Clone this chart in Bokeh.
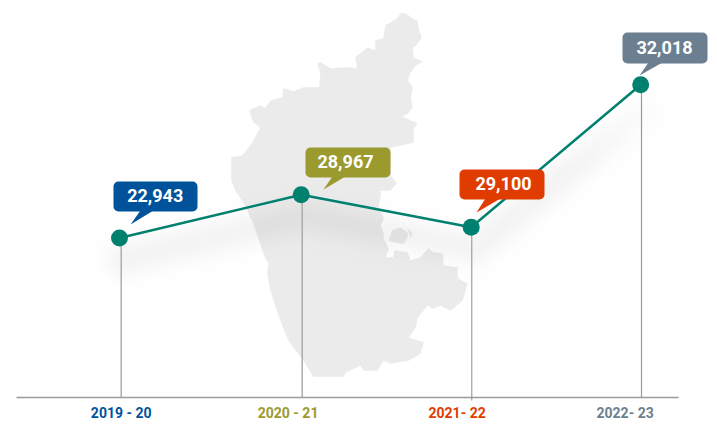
import numpy as np
from bokeh.core.properties import value
from bokeh.embed import file_html
from bokeh.models import Range1d
from bokeh.plotting import figure
from bokeh.resources import INLINE

# page-pixel coordinate space of the reference picture
periods = ["2019 - 20", "2020 - 21", "2021- 22", "2022- 23"]
values = [22943, 28967, 29100, 32018]
colors = ["#00529b", "#9a9a2e", "#e03c00", "#6b7f90"]
point_x = [119, 300.7, 470.7, 640.2]
point_level = [237.5, 194.3, 226.7, 84.3]
stem_x = [120.7, 301.7, 471.3, 641]
label_x = [120.7, 287.6, 456.6, 624.6]
bubble_left = [113, 305, 459, 622]
bubble_right = [197, 390, 544, 707]
bubble_top = [181, 147, 169, 32]
bubble_bottom = [211, 177, 199, 63]
bubble_text_x = [154.7, 345, 503, 664]
tail_xs = [[140, 153, 130], [332, 345, 323], [485, 500, 476], [648, 662, 639]]
tail_ys = [[210, 210, 224], [176, 176, 189], [198, 198, 212], [62, 62, 75]]

map_outline = [
    (405,13),(408,15),(413,19),(417,20),(418,28),(421,37),(417,43),(412,48),(413,57),(422,61),(415,65),
    (410,72),(407,80),(412,87),(410,97),(412,107),(407,113),(401,116),(417,123),(413,128),(413,142),
    (390,147),(390,175),(396,183),(390,190),(380,190),(380,195),(378,207),(383,218),(380,225),(383,233),
    (383,238),(388,248),(385,257),(393,257),(394,250),(407,252),(410,260),(420,257),(428,248),(433,252),
    (442,253),(443,265),(457,267),(457,278),(467,283),(462,300),(450,310),(440,305),(433,308),(427,305),
    (417,317),(415,327),(408,337),(423,342),(420,353),(408,360),(390,363),(383,360),(377,370),(363,370),
    (360,365),(345,372),(343,376),(313,376),(303,360),(288,340),(280,320),(270,290),(267,273),(268,263),
    (265,258),(253,223),(250,217),(245,205),(235,190),(231,180),(231,157),(242,155),(250,145),(253,140),
    (260,127),(253,122),(249,110),(260,105),(265,108),(270,100),(282,97),(283,88),(293,91),(303,87),
    (319,87),(320,73),(317,63),(320,62),(330,68),(347,67),(357,68),(355,57),(367,47),(375,50),
    (375,40),(383,38),(385,25),(397,18),(400,13),
]
map_blob = [(392,230),(400,227),(407,232),(407,237),(403,243),(395,242),(388,240)]
map_sliver = [(407,228),(412,233),(410,237)]

X0, X1, Y0, Y1 = 0, 717, 0, 425
p = figure(width=717, height=425, output_backend="svg", toolbar_location=None,
           x_range=Range1d(X0, X1), y_range=Range1d(Y1, Y0), min_border=0,
           outline_line_color=None, background_fill_color="white", border_fill_color="white")
p.xaxis.visible = False
p.yaxis.visible = False
p.grid.visible = False

# silhouette
for shape in (map_outline, map_blob, map_sliver):
    p.patch([q[0] for q in shape], [q[1] for q in shape], fill_color="#ebebeb", line_color="#ebebeb", line_width=0.5)

# soft drop shadow of the line
gx, gy = np.meshgrid(np.arange(X0, X1, 2.0) + 1, np.arange(Y0, Y1, 2.0) + 1)
dist = np.full(gx.shape, 1e9)
sx = np.array(point_x) + 5
sy = np.array(point_level) + 22
for i in range(3):
    ax, ay, bx, by = sx[i], sy[i], sx[i + 1], sy[i + 1]
    t = np.clip(((gx - ax) * (bx - ax) + (gy - ay) * (by - ay)) / ((bx - ax) ** 2 + (by - ay) ** 2), 0, 1)
    dist = np.minimum(dist, np.hypot(gx - ax - t * (bx - ax), gy - ay - t * (by - ay)))
alpha = 0.045 * np.exp(-((dist / 19.0) ** 2)) * np.clip((gy - 80) / 90, 0, 1)
img = np.zeros(gx.shape, dtype=np.uint32)
view = img.view(np.uint8).reshape(gx.shape + (4,))
view[..., 3] = np.round(alpha * 255).astype(np.uint8)
p.image_rgba(image=[img], x=X0, y=Y0, dw=X1 - X0, dh=Y1 - Y0)

# baseline and stems
p.segment(x0=[16], y0=[397], x1=[678], y1=[397], line_color="#9a9a9a", line_width=1.3)
p.segment(x0=stem_x, y0=point_level, x1=stem_x, y1=[397, 397, 400, 397],
          line_color=["#a8a8a8", "#a8a8a8", "#8c8c8c", "#9a9a9a"], line_width=[1.4, 1.4, 1, 1.2])

# line and markers
p.line(point_x, point_level, line_color="#00806f", line_width=2.5)
p.scatter(point_x, point_level, size=17, fill_color="#00806f", line_color=None)

# callouts
p.patches(tail_xs, tail_ys, fill_color=colors, line_color=None)
p.quad(left=bubble_left, right=bubble_right, top=bubble_top, bottom=bubble_bottom,
       fill_color=colors, line_color=None, border_radius=5)
p.text(x=bubble_text_x, y=[(a + b) / 2 - 0.7 for a, b in zip(bubble_top, bubble_bottom)],
       text=[f"{v:,}" for v in values], text_color="white", text_font=value("Roboto"),
       text_font_style="bold", text_font_size="18px", text_align="center", text_baseline="middle")

# category labels
p.text(x=label_x, y=[412] * 4, text=periods, text_color=colors, text_font=value("Roboto"),
       text_font_style="bold", text_font_size="14px", text_align="center", text_baseline="middle")

open("out.html", "w").write(file_html(p, INLINE))
